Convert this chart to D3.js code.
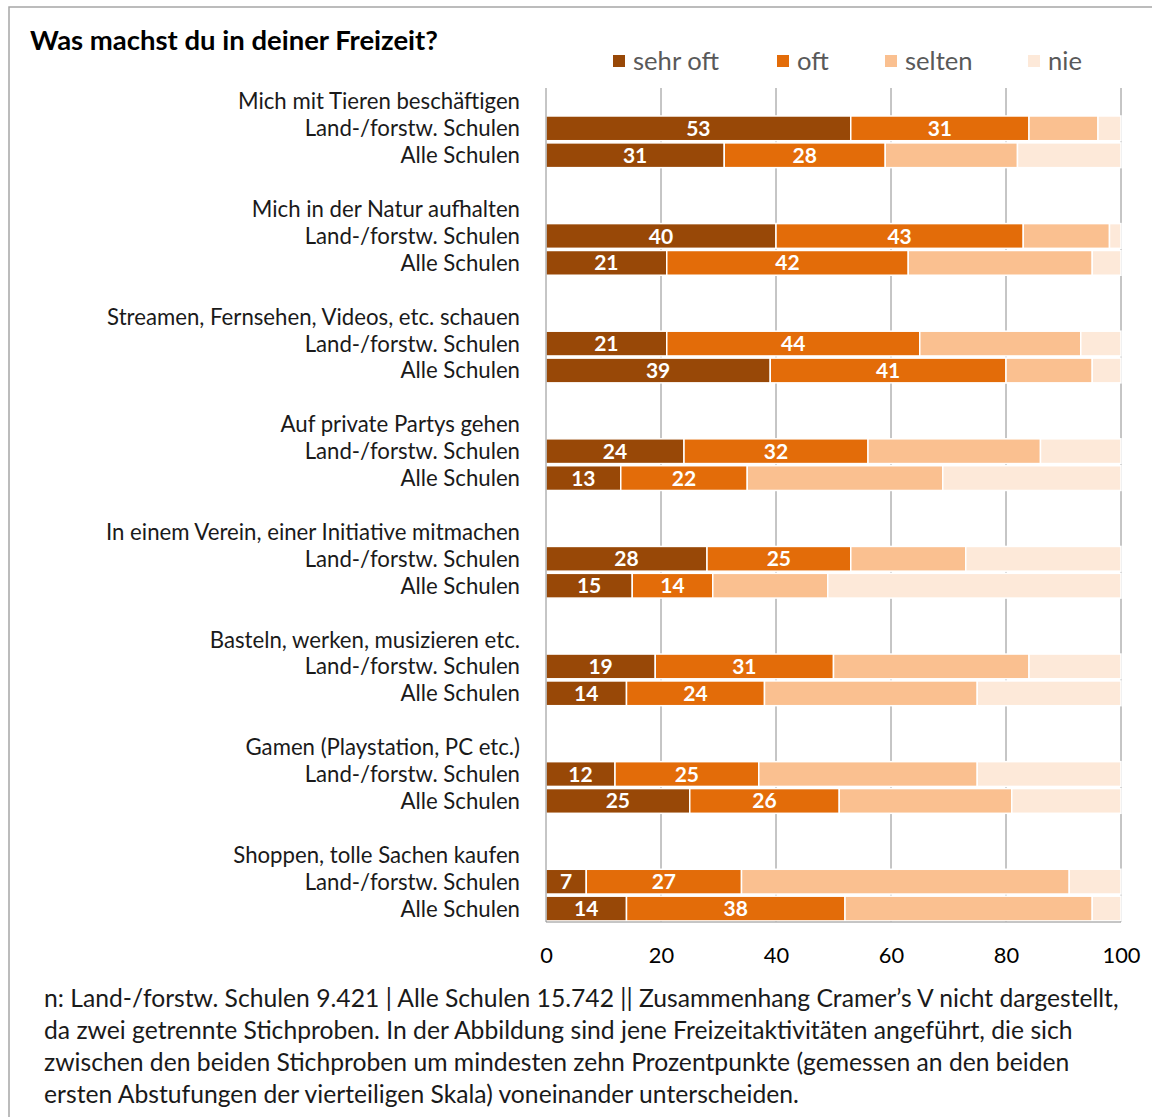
<!DOCTYPE html>
<html><head><meta charset="utf-8">
<script src="https://cdn.jsdelivr.net/npm/d3@7"></script>
<style>html,body{margin:0;padding:0;background:#fff;}svg{display:block;}</style>
</head><body>
<svg id="chart" width="1157" height="1117"></svg>
<script>
const title = "Was machst du in deiner Freizeit?";
const categories = [
  "Mich mit Tieren beschäftigen",
  "Mich in der Natur aufhalten",
  "Streamen, Fernsehen, Videos, etc. schauen",
  "Auf private Partys gehen",
  "In einem Verein, einer Initiative mitmachen",
  "Basteln, werken, musizieren etc.",
  "Gamen (Playstation, PC etc.)",
  "Shoppen, tolle Sachen kaufen"
];
const groups = ["Land-/forstw. Schulen", "Alle Schulen"];
const seriesNames = ["sehr oft", "oft", "selten", "nie"];
const seriesColors = ["#984807", "#E36C09", "#FAC090", "#FDE9D9"];
const sehrOftLand = [53, 40, 21, 24, 28, 19, 12, 7];
const oftLand     = [31, 43, 44, 32, 25, 31, 25, 27];
const seltenLand  = [12, 15, 28, 30, 20, 34, 38, 57];
const nieLand     = [4, 2, 7, 14, 27, 16, 25, 9];
const sehrOftAlle = [31, 21, 39, 13, 15, 14, 25, 14];
const oftAlle     = [28, 42, 41, 22, 14, 24, 26, 38];
const seltenAlle  = [23, 32, 15, 34, 20, 37, 30, 43];
const nieAlle     = [18, 5, 5, 31, 51, 25, 19, 5];
const xTicks = [0, 20, 40, 60, 80, 100];
const footnote = [
  "n: Land-/forstw. Schulen 9.421 | Alle Schulen 15.742 || Zusammenhang Cramer’s V nicht dargestellt,",
  "da zwei getrennte Stichproben. In der Abbildung sind jene Freizeitaktivitäten angeführt, die sich",
  "zwischen den beiden Stichproben um mindesten zehn Prozentpunkte (gemessen an den beiden",
  "ersten Abstufungen der vierteiligen Skala) voneinander unterscheiden."
];

const FONT = "Lato, 'Open Sans', sans-serif";
const svg = d3.select("#chart").style("font-family", FONT);

const rows = [];
categories.forEach((c, i) => {
  rows.push({key: "t" + i, label: c, type: "title"});
  rows.push({key: "l" + i, label: groups[0], type: "bar",
    vals: [sehrOftLand[i], oftLand[i], seltenLand[i], nieLand[i]]});
  rows.push({key: "a" + i, label: groups[1], type: "bar",
    vals: [sehrOftAlle[i], oftAlle[i], seltenAlle[i], nieAlle[i]]});
  if (i < categories.length - 1) rows.push({key: "g" + i, label: "", type: "gap"});
});

const x = d3.scaleLinear().domain([0, 100]).range([546, 1121]);
const y = d3.scaleBand().domain(rows.map(r => r.key)).range([88, 922]).paddingInner(0.08).paddingOuter(0.04);

function fitSize(sample, target, weight, base) {
  const t = svg.append("text").attr("font-size", base).attr("font-weight", weight).text(sample);
  const w = t.node().getComputedTextLength();
  t.remove();
  return base * target / w;
}
const labelSize = Math.min(fitSize(categories[2], 466, "normal", 22), 22.2);
const titleSize = fitSize(title, 408, "bold", 22);
const footSize = fitSize(footnote[0], 1075, "normal", 21);
const legendSize = fitSize("sehr oft", 86, "normal", 22);
const axisSize = fitSize("100", 38, "normal", 22);

svg.append("path").attr("d", "M9,1117V7H1152").attr("fill", "none").attr("stroke", "#a6a6a6").attr("stroke-width", 1.5);

svg.append("text").attr("x", 30).attr("y", 40).attr("dy", "0.36em").attr("font-weight", "bold")
  .attr("font-size", titleSize).attr("fill", "#000").text(title);

svg.append("g").selectAll("line").data(xTicks.filter(d => d > 0)).join("line")
  .attr("x1", d => x(d)).attr("x2", d => x(d)).attr("y1", 88).attr("y2", 922)
  .attr("stroke", "#8c8c8c").attr("stroke-width", 1);

const barRows = rows.filter(r => r.type === "bar");
const segs = [];
barRows.forEach(r => {
  let acc = 0;
  r.vals.forEach((v, si) => {
    segs.push({row: r.key, s: si, x0: acc, x1: acc + v, v});
    acc += v;
  });
});
svg.append("g").selectAll("rect").data(segs).join("rect")
  .attr("x", d => x(d.x0)).attr("width", d => x(d.x1) - x(d.x0))
  .attr("y", d => y(d.row)).attr("height", y.bandwidth())
  .attr("fill", d => seriesColors[d.s])
  .attr("stroke", "#fff").attr("stroke-width", 1.5);

svg.append("g").selectAll("text").data(segs.filter(d => d.s < 2)).join("text")
  .attr("x", d => (x(d.x0) + x(d.x1)) / 2)
  .attr("y", d => y(d.row) + y.bandwidth() / 2)
  .attr("dy", "0.36em").attr("text-anchor", "middle")
  .attr("font-weight", "bold").attr("font-size", 21).attr("fill", "#fff")
  .text(d => d.v);

svg.append("line").attr("x1", 546).attr("x2", 546).attr("y1", 88).attr("y2", 922)
  .attr("stroke", "#8c8c8c").attr("stroke-width", 1);
svg.append("line").attr("x1", 546).attr("x2", 1121).attr("y1", 922).attr("y2", 922)
  .attr("stroke", "#8c8c8c").attr("stroke-width", 1);

svg.append("g").selectAll("text").data(rows.filter(r => r.label)).join("text")
  .attr("x", 520).attr("y", d => y(d.key) + y.bandwidth() / 2).attr("dy", "0.36em")
  .attr("text-anchor", "end").attr("font-size", labelSize).attr("fill", "#1a1a1a")
  .text(d => d.label);

const xAxis = d3.axisBottom(x).tickValues(xTicks).tickSize(0).tickPadding(0).tickFormat(d3.format("d"));
const gx = svg.append("g").attr("transform", "translate(0,947)").call(xAxis);
gx.select(".domain").remove();
gx.selectAll("text").attr("font-size", axisSize).attr("font-family", FONT).attr("fill", "#000");

const legendX = [613, 777, 885, 1028];
const lg = svg.append("g").selectAll("g").data(seriesNames).join("g")
  .attr("transform", (d, i) => `translate(${legendX[i]},0)`);
lg.append("rect").attr("x", 0).attr("y", 55).attr("width", 12).attr("height", 12)
  .attr("fill", (d, i) => seriesColors[i]);
lg.append("text").attr("x", 20).attr("y", 61).attr("dy", "0.36em")
  .attr("font-size", legendSize).attr("fill", "#595959").text(d => d);

svg.append("g").selectAll("text").data(footnote).join("text")
  .attr("x", 44).attr("y", (d, i) => 998 + i * 32).attr("dy", "0.36em")
  .attr("font-size", footSize).attr("fill", "#1a1a1a").text(d => d);
</script>
</body></html>
